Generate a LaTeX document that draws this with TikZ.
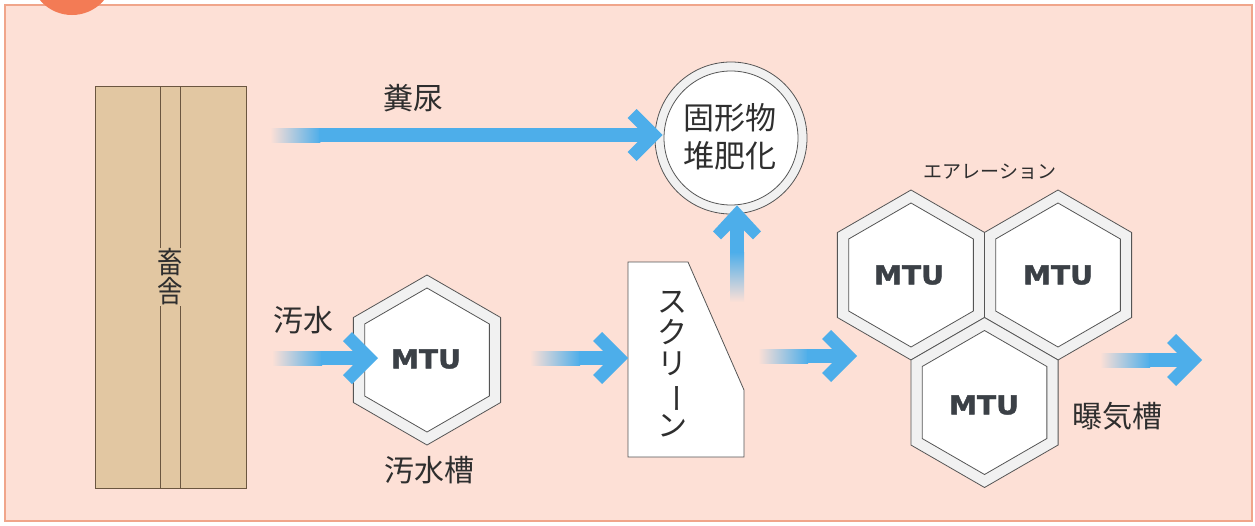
\documentclass[tikz,border=0pt]{standalone}
\usepackage{fontspec}
\usepackage{graphicx}
\usetikzlibrary{calc}
\newfontfamily\jp{Noto Sans CJK JP}
\newfontfamily\mtufont{DejaVu Sans}[BoldFeatures={FakeBold=1.6}]
\definecolor{bg}{HTML}{FDE0D6}
\definecolor{frame}{HTML}{F0A58A}
\definecolor{badge}{HTML}{F37B55}
\definecolor{flow}{HTML}{4DAEEA}
\definecolor{tan}{HTML}{E2C7A2}
\definecolor{brownedge}{HTML}{6B5640}
\definecolor{edge}{HTML}{555555}
\definecolor{ring}{HTML}{F1F1F1}
\definecolor{txt}{HTML}{2E2E2E}
\definecolor{mtutxt}{HTML}{3B4046}
\newcommand\jpsize[2]{\jp\fontsize{#1}{#2}\selectfont}
% horizontal flow arrow: tail, head
\newcommand\harrow[2]{%
  \shade[left color=bg, right color=flow] ($(#1)+(0,-7)$) rectangle ($(#1)+(50,7)$);
  \draw[shaft] ($(#1)+(49,0)$) -- ($(#2)+(-10,0)$);
  \fill[flow, shift={(#2)}] (0,0) -- (-26,-26) -- (-35,-17) -- (-18,0) -- (-35,17) -- (-26,26) -- cycle;
}
\begin{document}
\begin{tikzpicture}[x=1pt,y=-1pt,
  shaft/.style={draw=flow, line width=14pt},
  jptext/.style={font=\jpsize{30}{31}, text=txt, inner sep=0pt, align=center},
  mtu/.style={font=\mtufont\bfseries\fontsize{26}{26}\selectfont, text=mtutxt, inner sep=0pt},
  hexout/.style={draw=edge, fill=ring, line width=0.8pt},
  hexin/.style={draw=edge, fill=white, line width=0.8pt}]
\useasboundingbox (0,0) rectangle (1255,525);
% frame
\draw[draw=frame, fill=bg, line width=1.4pt] (5,5) rectangle (1252,521);
\begin{scope}
  \clip (0,0) rectangle (1255,525);
  \fill[badge] (72,-27) circle[radius=42pt];
\end{scope}
% barn
\node[draw=brownedge, fill=tan, line width=0.8pt, minimum width=151pt, minimum height=402pt, inner sep=0pt] (barn) at (170.5,287) {};
\draw[brownedge, line width=0.7pt] (160,86) -- (160,488);
\draw[brownedge, line width=0.7pt] (180,86) -- (180,488);
\node[fill=tan, font=\jpsize{30}{29}, text=txt, align=center, inner sep=1pt] (barnlabel) at (170,277) {\scalebox{0.85}[1]{畜}\\\scalebox{0.85}[1]{舎}};
% compost circle
\node[circle, draw=edge, fill=ring, line width=0.8pt, minimum size=152pt, inner sep=0pt] (compost) at (731,138) {};
\draw[draw=edge, fill=white, line width=0.8pt] (compost.center) circle[radius=67pt];
\node[jptext, font=\jpsize{31}{38}] (compostlabel) at (730,137) {固形物\\堆肥化};
% sewage tank hexagon
\coordinate (tankc) at (427,360);
\draw[hexout, shift={(tankc)}] (90:85) -- (150:85) -- (210:85) -- (270:85) -- (330:85) -- (30:85) -- cycle;
\draw[hexin, shift={(tankc)}] (90:72) -- (150:72) -- (210:72) -- (270:72) -- (330:72) -- (30:72) -- cycle;
\node[mtu] (tank) at (426,359) {\scalebox{1.08}[1]{MTU}};
% screen
\draw[draw=edge, fill=white, line width=0.8pt] (628,262) -- (688,262) -- (744,390) -- (744,457) -- (628,457) -- cycle;
\node[jptext] (screen) at (672,364) {ス\\ク\\リ\\\rotatebox[origin=c]{-90}{ー}\\ン};
% aeration hexagons
\coordinate (a1c) at (911,275);
\coordinate (a2c) at (1058,275);
\coordinate (a3c) at (984.5,402.5);
\foreach \c in {a1c,a2c,a3c}{
  \draw[hexout, shift={(\c)}] (90:85) -- (150:85) -- (210:85) -- (270:85) -- (330:85) -- (30:85) -- cycle;
  \draw[hexin, shift={(\c)}] (90:72) -- (150:72) -- (210:72) -- (270:72) -- (330:72) -- (30:72) -- cycle;
}
\node[mtu] (aer1) at (909,275) {\scalebox{1.08}[1]{MTU}};
\node[mtu] (aer2) at (1058,275) {\scalebox{1.08}[1]{MTU}};
\node[mtu] (aer3) at (984,405) {\scalebox{1.08}[1]{MTU}};
% labels
\node[jptext] (funnyo) at (413,98) {糞尿};
\node[jptext] (osui) at (303,320) {汚水};
\node[jptext] (osuiso) at (429,470) {汚水槽};
\node[jptext, font=\jpsize{19}{19}] (aeration) at (990,172) {エアレーション};
\node[jptext] (bakkiso) at (1117,416) {曝気槽};
% arrows
\coordinate (t1) at ($(barn.east)+(24,-152)$);
\coordinate (h1) at ($(compost.west)+(8,-3)$);
\harrow{t1}{h1}
\coordinate (t2) at (272,358);
\coordinate (h2) at ($(tank.center)+(-48,-1)$);
\harrow{t2}{h2}
\coordinate (t3) at (530,358);
\coordinate (h3) at (628,358);
\harrow{t3}{h3}
\coordinate (t4) at (758,356);
\coordinate (h4) at (857,356);
\harrow{t4}{h4}
\coordinate (t5) at (1100,360);
\coordinate (h5) at (1202,360);
\harrow{t5}{h5}
% vertical arrow screen -> compost
\coordinate (tv) at (737,302);
\coordinate (hv) at ($(compost.south)+(6,-9)$);
\shade[top color=flow, bottom color=bg] ($(tv)+(-7,-50)$) rectangle ($(tv)+(7,0)$);
\draw[shaft] ($(tv)+(0,-49)$) -- ($(hv)+(0,10)$);
\fill[flow, shift={(hv)}] (0,0) -- (-24,26) -- (-16,34) -- (0,18) -- (16,34) -- (24,26) -- cycle;
\end{tikzpicture}
\end{document}
